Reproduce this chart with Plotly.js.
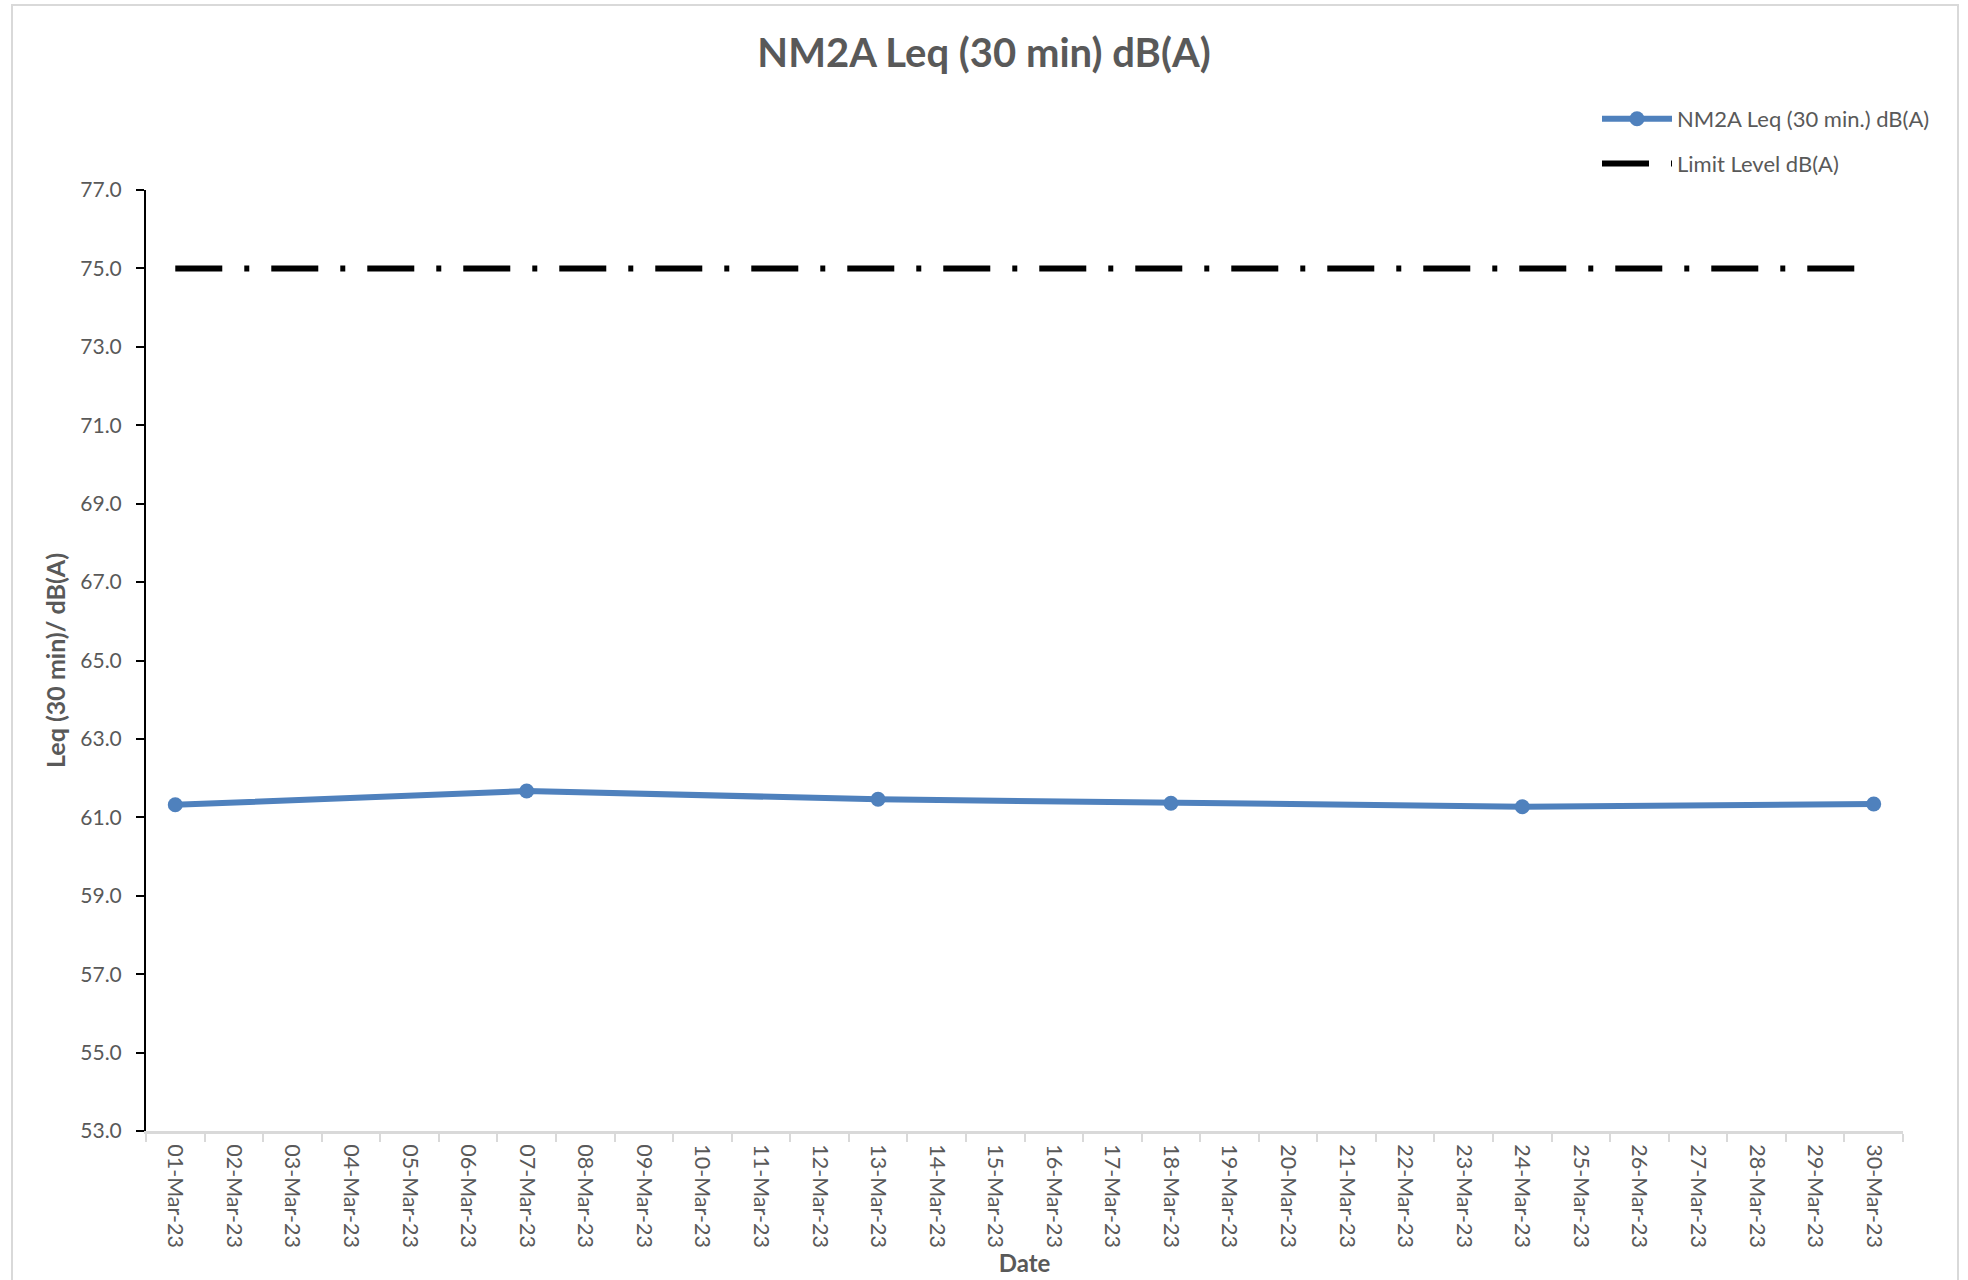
<!DOCTYPE html>
<html>
<head>
<meta charset="utf-8">
<script src="https://cdn.plot.ly/plotly-3.0.1.min.js"></script>
<style>
  html, body { margin: 0; padding: 0; background: #ffffff; }
  #wrap { position: relative; width: 1968px; height: 1280px; overflow: hidden; }
  #chart { position: absolute; left: 0; top: 0; width: 1968px; height: 1280px; }
  #frame { position: absolute; left: 11px; top: 4px; width: 1948px; height: 1300px;
           border: 2px solid #d9d9d9; box-sizing: border-box; pointer-events: none; }
</style>
</head>
<body>
<div id="wrap">
  <div id="chart"></div>
  <div id="frame"></div>
</div>
<script>
// ---- data ----
const dayLabels = ['01-Mar-23','02-Mar-23','03-Mar-23','04-Mar-23','05-Mar-23','06-Mar-23',
  '07-Mar-23','08-Mar-23','09-Mar-23','10-Mar-23','11-Mar-23','12-Mar-23','13-Mar-23',
  '14-Mar-23','15-Mar-23','16-Mar-23','17-Mar-23','18-Mar-23','19-Mar-23','20-Mar-23',
  '21-Mar-23','22-Mar-23','23-Mar-23','24-Mar-23','25-Mar-23','26-Mar-23','27-Mar-23',
  '28-Mar-23','29-Mar-23','30-Mar-23'];
const measDates  = ['01-Mar-23','07-Mar-23','13-Mar-23','18-Mar-23','24-Mar-23','30-Mar-23'];
const measValues = [61.32, 61.67, 61.46, 61.36, 61.27, 61.34];
const limitDates  = ['01-Mar-23','30-Mar-23'];
const limitValues = [75.0, 75.0];
const seriesNames = ['NM2A Leq (30 min.) dB(A)', 'Limit Level dB(A)'];
const chartTitle = 'NM2A Leq (30 min) dB(A)';
const xTitle = 'Date';
const yTitle = 'Leq (30 min)/ dB(A)';

const FONT = 'Lato, Calibri, "Noto Sans", sans-serif';
const GREY = '#595959';

const traces = [
  {
    type: 'scatter', mode: 'lines+markers',
    x: measDates, y: measValues, name: seriesNames[0],
    legendgroup: 'a',
    line: { color: '#4f81bd', width: 6 },
    marker: { color: '#4f81bd', size: 15, symbol: 'circle' },
    cliponaxis: false
  },
  {
    type: 'scatter', mode: 'lines',
    x: limitDates, y: limitValues, name: seriesNames[1],
    legendgroup: 'b',
    line: { color: '#000000', width: 6, dash: '47px,22px,5px,22px' },
    cliponaxis: false
  }
];

const layout = {
  width: 1968, height: 1280,
  paper_bgcolor: '#ffffff', plot_bgcolor: '#ffffff',
  margin: { l: 146, r: 65, t: 190, b: 149, pad: 0, autoexpand: false },
  font: { family: FONT, color: GREY, size: 21 },
  title: {
    text: '<b>' + chartTitle + '</b>',
    font: { family: FONT, size: 40, color: GREY },
    x: 0.5, xref: 'container', xanchor: 'center',
    y: 1 - 53 / 1280, yref: 'container', yanchor: 'middle'
  },
  showlegend: true,
  legend: {
    xref: 'container', yref: 'container',
    x: 1597 / 1968, xanchor: 'left',
    y: 1 - 98 / 1280, yanchor: 'top',
    font: { family: FONT, size: 22, color: GREY },
    bgcolor: 'rgba(0,0,0,0)',
    traceorder: 'grouped',
    tracegroupgap: 13,
    itemwidth: 70
  },
  xaxis: {
    type: 'category',
    categoryorder: 'array', categoryarray: dayLabels,
    tickvals: dayLabels, ticktext: dayLabels,
    range: [-0.5, dayLabels.length - 0.5],
    tickson: 'boundaries',
    ticks: 'outside', ticklen: 8, tickwidth: 2, tickcolor: '#d9d9d9',
    showline: true, linecolor: '#d9d9d9', linewidth: 3,
    showgrid: false, zeroline: false,
    tickangle: 90,
    tickfont: { family: FONT, size: 21.5, color: GREY },
    ticklabelstandoff: 6,
    title: { text: '<b>' + xTitle + '</b>', font: { family: FONT, size: 24, color: GREY }, standoff: 0 },
    fixedrange: true
  },
  yaxis: {
    range: [53, 77],
    tick0: 53, dtick: 2, tickformat: '.1f',
    ticks: 'outside', ticklen: 8, tickwidth: 2, tickcolor: '#000000',
    showline: true, linecolor: '#000000', linewidth: 2,
    showgrid: false, zeroline: false,
    tickfont: { family: FONT, size: 21, color: GREY },
    ticklabelstandoff: 10,
    title: { text: '<b>' + yTitle + '</b>', font: { family: FONT, size: 25, color: GREY }, standoff: 8 },
    fixedrange: true
  }
};

Plotly.newPlot('chart', traces, layout, { displayModeBar: false, staticPlot: true });
</script>
</body>
</html>
